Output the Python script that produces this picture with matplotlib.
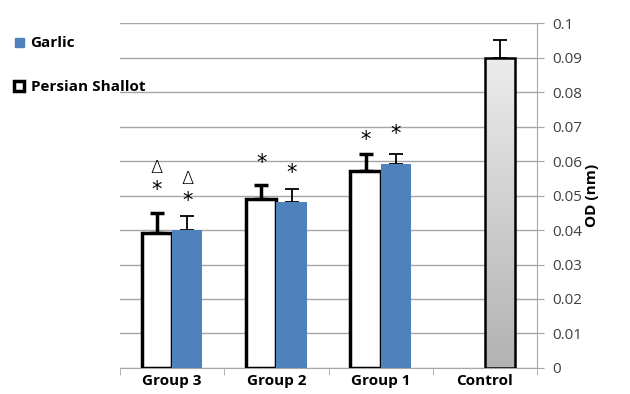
import numpy as np
import matplotlib.pyplot as plt
from matplotlib.colors import LinearSegmentedColormap
from matplotlib.patches import Rectangle

# values (OD, nm)
groups = ["Group 3", "Group 2", "Group 1", "Control"]
shallot = [0.039, 0.049, 0.057]
shallot_err = [0.006, 0.004, 0.005]
garlic = [0.040, 0.048, 0.059]
garlic_err = [0.004, 0.004, 0.003]
control = 0.090
control_err = 0.005
yticks = [0, 0.01, 0.02, 0.03, 0.04, 0.05, 0.06, 0.07, 0.08, 0.09, 0.1]
# significance marks: (star, delta) for each group
shallot_marks = [("*", "\u0394"), ("*", None), ("*", None)]
garlic_marks = [("*", "\u0394"), ("*", None), ("*", None)]
# how far above the error cap each star sits
shallot_gap = [0.0066, 0.0064, 0.0042]
garlic_gap = [0.0044, 0.0044, 0.0058]

plt.rcParams["font.family"] = ["Open Sans", "DejaVu Sans"]
blue = "#4f81bd"
grid = "#a6a6a6"

fig = plt.figure(figsize=(6.3, 3.94), dpi=100)
ax = fig.add_axes([0.1905, 0.066, 0.6619, 0.8756])

width = 0.29
x = np.arange(len(groups))
xs = x[:3] - width / 2
xg = x[:3] + width / 2

ax.bar(xs, shallot, width, color="white", edgecolor="black", linewidth=2.5, zorder=3)
ax.errorbar(xs, shallot, yerr=[np.zeros(3), shallot_err], fmt="none",
            ecolor="black", elinewidth=2.5, capsize=5, capthick=2.5, zorder=2)
ax.bar(xg, garlic, width, color=blue, linewidth=0, zorder=3)
ax.errorbar(xg, garlic, yerr=[np.zeros(3), garlic_err], fmt="none",
            ecolor="black", elinewidth=1.3, capsize=5, capthick=1.3, zorder=2)

# control bar with vertical gray gradient
cx = x[3] + width / 2
ctrl = ax.bar([cx], [control], width, color="none", edgecolor="black", linewidth=1.8, zorder=4)[0]
grays = LinearSegmentedColormap.from_list("grays", ["#ececec", "#b2b2b2"])
grad = np.linspace(0, 1, 256).reshape(-1, 1)
img = ax.imshow(grad, cmap=grays, aspect="auto",
                extent=[cx - width / 2, cx + width / 2, 0, control], origin="upper", zorder=3)
img.set_clip_path(ctrl)
ax.errorbar([cx], [control], yerr=[[0], [control_err]], fmt="none",
            ecolor="black", elinewidth=1.3, capsize=5, capthick=1.3, zorder=2)

# significance marks above the error bars
for xs_, vals, errs, gaps, marks in [(xs, shallot, shallot_err, shallot_gap, shallot_marks),
                                      (xg, garlic, garlic_err, garlic_gap, garlic_marks)]:
    for xi, v, e, g, (m1, m2) in zip(xs_, vals, errs, gaps, marks):
        ys = v + e + g
        ax.text(xi, ys, m1, ha="center", va="center", fontsize=15, family="DejaVu Sans")
        if m2:
            ax.text(xi, ys + 0.0064, m2, ha="center", va="center", fontsize=13,
                    family="DejaVu Sans", fontweight="light")

ax.set_xlim(-0.5, 3.5)
ax.set_ylim(0, 0.1)
ax.set_yticks(yticks)
ax.set_yticklabels([f"{t:g}" for t in yticks], fontsize=11, color="#404040")
ax.yaxis.tick_right()
ax.yaxis.set_label_position("right")
ax.set_ylabel("OD (nm)", fontsize=11, fontweight="bold", labelpad=2)
ax.tick_params(axis="y", direction="out", length=5, color=grid, pad=6)

ax.set_xticks(x)
ax.set_xticklabels(groups, fontsize=11, fontweight="bold")
ax.set_xticks(np.arange(-0.5, 3.6, 1), minor=True)
ax.tick_params(axis="x", which="major", length=0, pad=4)
ax.tick_params(axis="x", which="minor", direction="out", length=5, color=grid)

ax.grid(axis="y", color=grid, linewidth=1, zorder=0)
ax.set_axisbelow(True)
for side in ["top", "left"]:
    ax.spines[side].set_visible(False)
ax.spines["right"].set_color(grid)
ax.spines["bottom"].set_color(grid)

# legend drawn by hand at the top left
fig.patches.append(Rectangle((15 / 630, 1 - 47 / 394), 9 / 630, 9 / 394,
                             transform=fig.transFigure, color=blue))
fig.text(30 / 630, 1 - 43 / 394, "Garlic", fontsize=11, fontweight="bold", va="center")
fig.patches.append(Rectangle((14 / 630, 1 - 91 / 394), 10 / 630, 10 / 394,
                             transform=fig.transFigure, facecolor="white",
                             edgecolor="black", linewidth=2.5))
fig.text(31 / 630, 1 - 87 / 394, "Persian Shallot", fontsize=11, fontweight="bold", va="center")

fig.savefig("out.png", dpi=100)
